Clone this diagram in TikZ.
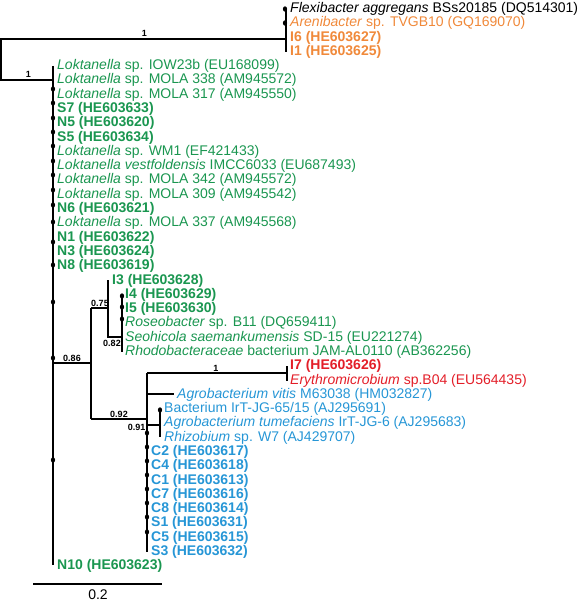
\documentclass[tikz,border=0pt]{standalone}
\usepackage{fontspec}
\setmainfont{Liberation Sans}
\usetikzlibrary{shapes.geometric}
\definecolor{grn}{RGB}{26,150,80}
\definecolor{blu}{RGB}{38,150,214}
\definecolor{org}{RGB}{240,137,58}
\definecolor{rd}{RGB}{227,30,40}
\tikzset{
  br/.style={line width=1.4pt, line cap=butt},
  tip/.style={anchor=base west, inner sep=0pt, font=\fontsize{14}{16}\selectfont},
  bs/.style={inner sep=0pt, font=\bfseries\fontsize{9}{10}\selectfont},
  dotm/.style={fill=black, ellipse, inner sep=0pt, minimum width=4.2pt, minimum height=5.4pt}
}
\begin{document}
\begin{tikzpicture}[x=1pt,y=-1pt]
\useasboundingbox (0,0) rectangle (583,602);
% ---- coordinates of the tree ----
\coordinate (rt) at (1,39);
\coordinate (rb) at (1,80);
\coordinate (tn) at (286,39);
\coordinate (tt) at (286,9);
\coordinate (tb) at (286,52);
\coordinate (ln) at (53,80);
\coordinate (lt) at (53,66);
\coordinate (lb) at (53,565);
\coordinate (n86a) at (53,363);
\coordinate (n86) at (91,363);
\coordinate (n86t) at (91,308);
\coordinate (n86b) at (91,419);
\coordinate (n75) at (108,308);
\coordinate (n75t) at (108,280);
\coordinate (n75b) at (108,337);
\coordinate (n82) at (122,337);
\coordinate (n82t) at (122,295);
\coordinate (n82b) at (122,352);
\coordinate (n92) at (147,419);
\coordinate (n92t) at (147,373);
\coordinate (n92b) at (147,552);
\coordinate (n1) at (287,373);
\coordinate (n1t) at (287,366);
\coordinate (n1b) at (287,381);
\coordinate (av0) at (147,394);
\coordinate (av1) at (174,394);
\coordinate (n91a) at (147,425);
\coordinate (n91) at (160,425);
\coordinate (n91t) at (160,410);
\coordinate (n91b) at (160,437);
\coordinate (sb0) at (33,584);
\coordinate (sb1) at (162,584);
% ---- branches ----
\draw[br] (tn) -- (rt) -- (rb) -- (ln);
\draw[br] (tt) -- (tb);
\draw[br] (lt) -- (lb);
\draw[br] (n86a) -- (n86);
\draw[br] (n86t) -- (n86b);
\draw[br] (n86t) -- (n75);
\draw[br] (n75t) -- (n75b) -- (n82);
\draw[br] (n82t) -- (n82b);
\draw[br] (n86b) -- (n92);
\draw[br] (n92t) -- (n92b);
\draw[br] (n92t) -- (n1);
\draw[br] (n1t) -- (n1b);
\draw[br] (av0) -- (av1);
\draw[br] (n91a) -- (n91);
\draw[br] (n91t) -- (n91b);
\draw[line width=1.4pt] (sb0) -- (sb1);
% ---- dots ----
\foreach \y [count=\i] in {9,23} \node[dotm] (dt\i) at (285,\y) {};
\foreach \y [count=\i] in {89,103,118,132,146,161,175,190,205,222,242,265,302,358,460}
  \node[dotm] (dl\i) at (53,\y) {};
\foreach \y [count=\i] in {296,307,319} \node[dotm] (dr\i) at (122,\y) {};
\foreach \y [count=\i] in {433,447,461,475,489,503,517,532} \node[dotm] (dc\i) at (147,\y) {};
\node[dotm] (db1) at (160,410) {};
% ---- support values ----
\node[bs, anchor=south] (b1) at (144.5,37) {1};
\node[bs, anchor=south] (b2) at (28.5,78) {1};
\node[bs, anchor=south] (b3) at (72,361.5) {0.86};
\node[bs, anchor=south] (b4) at (100,306.5) {0.75};
\node[bs, anchor=north] (b5) at (112,340.5) {0.82};
\node[bs, anchor=south] (b6) at (119,417.5) {0.92};
\node[bs, anchor=east] (b7) at (145.5,427) {0.91};
\node[bs, anchor=south] (b8) at (216,371.5) {1};
% ---- tip labels ----
\node[tip] (t0) at (290,{12.5+14.29*0}) {\textit{Flexibacter aggregans} BSs20185 (DQ514301)};
\node[tip, text=org] (t1) at (290,{12.5+14.29*1}) {\textit{Arenibacter} sp. TVGB10 (GQ169070)};
\node[tip, text=org] (t2) at (290,{12.5+14.29*2}) {\textbf{I6 (HE603627)}};
\node[tip, text=org] (t3) at (290,{12.5+14.29*3}) {\textbf{I1 (HE603625)}};
\node[tip, text=grn] (t4) at (57,{12.5+14.29*4}) {\textit{Loktanella} sp. IOW23b (EU168099)};
\node[tip, text=grn] (t5) at (57,{12.5+14.29*5}) {\textit{Loktanella} sp. MOLA 338 (AM945572)};
\node[tip, text=grn] (t6) at (57,{12.5+14.29*6}) {\textit{Loktanella} sp. MOLA 317 (AM945550)};
\node[tip, text=grn] (t7) at (57,{12.5+14.29*7}) {\textbf{S7 (HE603633)}};
\node[tip, text=grn] (t8) at (57,{12.5+14.29*8}) {\textbf{N5 (HE603620)}};
\node[tip, text=grn] (t9) at (57,{12.5+14.29*9}) {\textbf{S5 (HE603634)}};
\node[tip, text=grn] (t10) at (57,{12.5+14.29*10}) {\textit{Loktanella} sp. WM1 (EF421433)};
\node[tip, text=grn] (t11) at (57,{12.5+14.29*11}) {\textit{Loktanella vestfoldensis} IMCC6033 (EU687493)};
\node[tip, text=grn] (t12) at (57,{12.5+14.29*12}) {\textit{Loktanella} sp. MOLA 342 (AM945572)};
\node[tip, text=grn] (t13) at (57,{12.5+14.29*13}) {\textit{Loktanella} sp. MOLA 309 (AM945542)};
\node[tip, text=grn] (t14) at (57,{12.5+14.29*14}) {\textbf{N6 (HE603621)}};
\node[tip, text=grn] (t15) at (57,{12.5+14.29*15}) {\textit{Loktanella} sp. MOLA 337 (AM945568)};
\node[tip, text=grn] (t16) at (57,{12.5+14.29*16}) {\textbf{N1 (HE603622)}};
\node[tip, text=grn] (t17) at (57,{12.5+14.29*17}) {\textbf{N3 (HE603624)}};
\node[tip, text=grn] (t18) at (57,{12.5+14.29*18}) {\textbf{N8 (HE603619)}};
\node[tip, text=grn] (t19) at (112,{12.5+14.29*19}) {\textbf{I3 (HE603628)}};
\node[tip, text=grn] (t20) at (125,{12.5+14.29*20}) {\textbf{I4 (HE603629)}};
\node[tip, text=grn] (t21) at (125,{12.5+14.29*21}) {\textbf{I5 (HE603630)}};
\node[tip, text=grn] (t22) at (125,{12.5+14.29*22}) {\textit{Roseobacter} sp. B11 (DQ659411)};
\node[tip, text=grn] (t23) at (125,{12.5+14.29*23}) {\textit{Seohicola saemankumensis} SD-15 (EU221274)};
\node[tip, text=grn] (t24) at (125,{12.5+14.29*24}) {\textit{Rhodobacteraceae} bacterium JAM-AL0110 (AB362256)};
\node[tip, text=rd] (t25) at (290,{12.5+14.29*25}) {\textbf{I7 (HE603626)}};
\node[tip, text=rd] (t26) at (290,{12.5+14.29*26}) {\textit{Erythromicrobium} sp.B04 (EU564435)};
\node[tip, text=blu] (t27) at (177,{12.5+14.29*27}) {\textit{Agrobacterium vitis} M63038 (HM032827)};
\node[tip, text=blu] (t28) at (164,{12.5+14.29*28}) {Bacterium IrT-JG-65/15 (AJ295691)};
\node[tip, text=blu] (t29) at (164,{12.5+14.29*29}) {\textit{Agrobacterium tumefaciens} IrT-JG-6 (AJ295683)};
\node[tip, text=blu] (t30) at (164,{12.5+14.29*30}) {\textit{Rhizobium} sp. W7 (AJ429707)};
\node[tip, text=blu] (t31) at (151,{12.5+14.29*31}) {\textbf{C2 (HE603617)}};
\node[tip, text=blu] (t32) at (151,{12.5+14.29*32}) {\textbf{C4 (HE603618)}};
\node[tip, text=blu] (t33) at (151,{12.5+14.29*33}) {\textbf{C1 (HE603613)}};
\node[tip, text=blu] (t34) at (151,{12.5+14.29*34}) {\textbf{C7 (HE603616)}};
\node[tip, text=blu] (t35) at (151,{12.5+14.29*35}) {\textbf{C8 (HE603614)}};
\node[tip, text=blu] (t36) at (151,{12.5+14.29*36}) {\textbf{S1 (HE603631)}};
\node[tip, text=blu] (t37) at (151,{12.5+14.29*37}) {\textbf{C5 (HE603615)}};
\node[tip, text=blu] (t38) at (151,{12.5+14.29*38}) {\textbf{S3 (HE603632)}};
\node[tip, text=grn] (t39) at (57,{12.5+14.29*39}) {\textbf{N10 (HE603623)}};
\node[inner sep=0pt, font=\fontsize{14}{16}\selectfont] (sbl) at (98,595) {0.2};
\end{tikzpicture}
\end{document}
